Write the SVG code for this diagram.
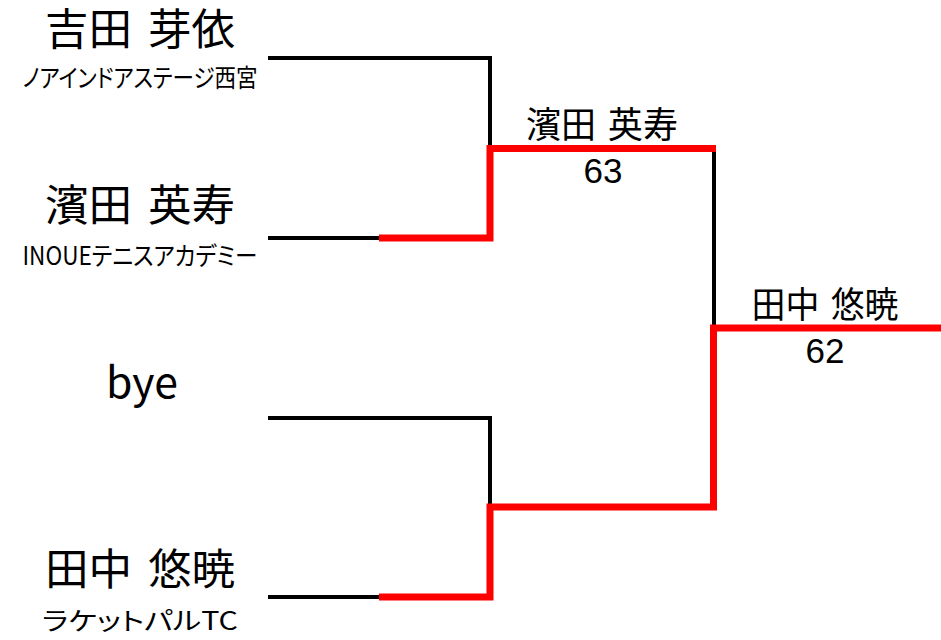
<svg xmlns="http://www.w3.org/2000/svg" width="941" height="640" viewBox="0 0 941 640">
<style>
text{font-family:"Noto Sans CJK JP","Noto Sans",sans-serif;fill:#000;text-anchor:middle;font-feature-settings:"palt"}
.name{font-size:43px;word-spacing:6px}
.club{font-size:25px}
.win{font-size:36px;word-spacing:4px}
.score{font-family:"Liberation Sans",Arial,sans-serif;font-size:35px}
.blk{fill:none;stroke:#000;stroke-width:4}
.red{fill:none;stroke:#ff0000;stroke-width:7;stroke-linejoin:miter}
</style>
<rect width="941" height="640" fill="#fff"/>
<g id="connectors">
<path class="blk" d="M268,58 H490 V150"/>
<path class="blk" d="M268,238 H382"/>
<path class="blk" d="M268,418 H490 V509"/>
<path class="blk" d="M268,597 H382"/>
<path class="blk" d="M714,150 V328"/>
<path class="red" d="M379,238 H490 V148.5 H716"/>
<path class="red" d="M379,597 H490 V507 H713.5 V328 H941"/>
</g>
<g id="player1">
<text class="name" x="140" y="45" textLength="190" lengthAdjust="spacingAndGlyphs">吉田 芽依</text>
<text class="club" x="140" y="87" textLength="235" lengthAdjust="spacingAndGlyphs">ノアインドアステージ西宮</text>
</g>
<g id="player2">
<text class="name" x="140" y="221" textLength="190" lengthAdjust="spacingAndGlyphs">濱田 英寿</text>
<text class="club" x="140" y="265" textLength="235" lengthAdjust="spacingAndGlyphs">INOUEテニスアカデミー</text>
</g>
<g id="player3">
<text class="name" x="142" y="398" textLength="72" lengthAdjust="spacingAndGlyphs">bye</text>
</g>
<g id="player4">
<text class="name" x="140" y="585" textLength="190" lengthAdjust="spacingAndGlyphs">田中 悠暁</text>
<text class="club" x="140" y="630" textLength="196" lengthAdjust="spacingAndGlyphs">ラケットパルTC</text>
</g>
<g id="match1">
<text class="win" x="602" y="138" textLength="152" lengthAdjust="spacingAndGlyphs">濱田 英寿</text>
<text class="score" x="603" y="183">63</text>
</g>
<g id="final">
<text class="win" x="825" y="318" textLength="147" lengthAdjust="spacingAndGlyphs">田中 悠暁</text>
<text class="score" x="825" y="363">62</text>
</g>
</svg>
